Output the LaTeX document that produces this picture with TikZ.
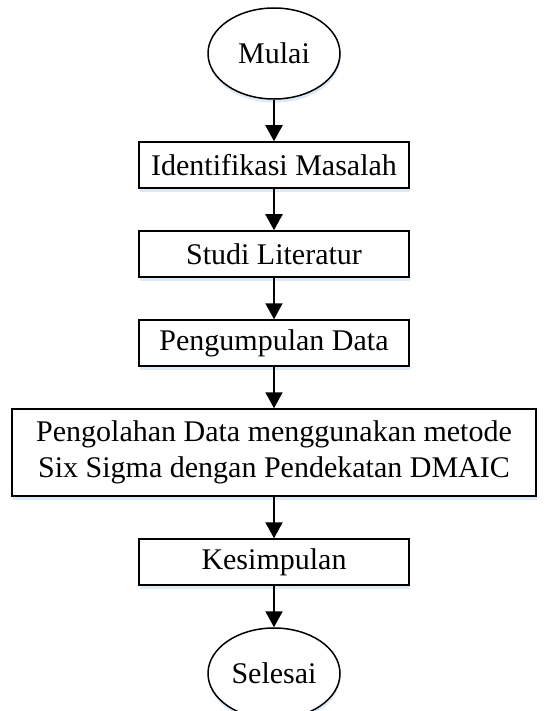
\documentclass[tikz,border=0pt]{standalone}
\usepackage{fontspec}
\setmainfont{Liberation Serif}
\usetikzlibrary{positioning,shapes.geometric,arrows.meta,shadows}
\definecolor{glowblue}{HTML}{9DC3E6}
\tikzset{
  softshadow/.style={drop shadow={shadow xshift=0.3pt, shadow yshift=-1.8pt, fill=glowblue, opacity=0.35}},
  stepbox/.style={draw, line width=0.75pt, fill=white, softshadow, minimum width=135pt,
    minimum height=23pt, inner sep=0pt, align=center},
  widebox/.style={stepbox, minimum width=262pt, minimum height=43.5pt},
  terminal/.style={ellipse, draw, line width=0.75pt, fill=white, softshadow, minimum width=66pt,
    minimum height=45.5pt, inner sep=0pt},
  flow/.style={-{Triangle[length=8pt, width=8.5pt]}, line width=1pt},
}

\begin{document}
\begin{tikzpicture}[font=\fontsize{15}{18}\selectfont, node distance=20.75pt]
\useasboundingbox (0,0) rectangle (276pt,-355.5pt);
% start
\node[terminal] (mulai) at (137pt,-26.75pt) {Mulai};
% steps
\node[stepbox, below=of mulai] (identifikasi) {Identifikasi Masalah};
\node[stepbox, below=of identifikasi] (studi) {Studi Literatur};
\node[stepbox, below=of studi] (pengumpulan) {Pengumpulan Data};
\node[widebox, below=of pengumpulan] (pengolahan) {Pengolahan Data menggunakan metode\\Six Sigma dengan Pendekatan DMAIC};
\node[stepbox, below=of pengolahan] (kesimpulan) {Kesimpulan};
% end
\node[terminal, below=of kesimpulan] (selesai) {Selesai};
% flows
\draw[flow] (mulai) -- (identifikasi);
\draw[flow] (identifikasi) -- (studi);
\draw[flow] (studi) -- (pengumpulan);
\draw[flow] (pengumpulan) -- (pengolahan);
\draw[flow] (pengolahan) -- (kesimpulan);
\draw[flow] (kesimpulan) -- (selesai);
\end{tikzpicture}
\end{document}
